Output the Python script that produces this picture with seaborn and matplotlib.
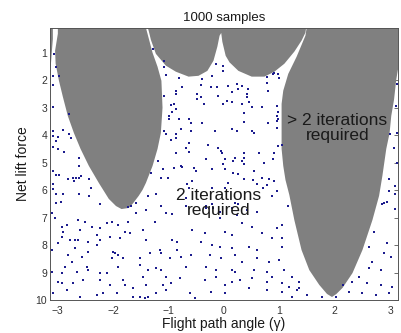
import matplotlib
matplotlib.use('Agg')
import matplotlib.pyplot as plt
import seaborn as sns
import numpy as np
import pandas as pd

# amostras visiveis (gamma, forca)
amostras_esquerda = [
    (-3.07, 1.04), (-3.04, 1.51), (-2.98, 1.84), (-3.09, 1.84), (-3.09, 2.17), (-3.09, 2.97), (-2.80, 3.22),
    (-3.09, 3.84), (-3.09, 4.02), (-3.00, 4.06), (-2.91, 3.81), (-3.04, 4.21), (-3.09, 4.43), (-2.80, 3.95),
    (-2.77, 4.10), (-3.00, 4.50), (-2.89, 4.61), (-2.62, 4.83), (-2.62, 5.12), (-3.09, 5.30), (-3.04, 5.45),
    (-2.98, 5.45), (-2.82, 5.59), (-2.73, 5.56), (-2.68, 5.56), (-2.62, 5.56), (-2.71, 5.66), (-2.59, 5.48),
    (-2.44, 5.59), (-2.41, 5.92), (-3.09, 5.77), (-3.09, 5.96), (-3.04, 6.14), (-2.91, 6.14), (-2.62, 6.14),
    (-2.44, 6.21), (-3.04, 6.47), (-2.95, 6.43), (-2.23, 6.50), (-1.74, 6.61), (-1.68, 6.58), (-1.59, 6.47),
    (-3.11, 6.83), (-3.05, 7.01), (-1.04, 6.83), (-0.93, 6.87), (-1.58, 6.83), (-1.40, 6.72), (-2.93, 7.34),
    (-2.84, 7.27), (-2.91, 7.52), (-2.64, 7.09), (-2.51, 7.16), (-2.39, 7.34), (-2.60, 7.45), (-2.24, 7.38),
    (-2.12, 7.20), (-2.03, 7.16), (-1.92, 7.27), (-1.74, 7.16), (-1.47, 7.45), (-1.25, 7.16), (-2.93, 7.71),
    (-2.78, 7.82), (-2.69, 7.82), (-2.64, 7.82), (-2.46, 7.89), (-2.30, 7.63), (-2.24, 7.82), (-2.06, 7.71),
    (-1.88, 7.74), (-1.79, 7.52), (-1.70, 7.56), (-1.40, 7.82), (-0.93, 7.82), (-0.84, 7.89), (-3.11, 8.18),
    (-3.00, 7.92), (-2.69, 8.11), (-2.82, 8.36), (-2.75, 8.62), (-2.57, 8.43), (-2.46, 8.25), (-2.30, 8.00),
    (-2.01, 8.25), (-1.97, 8.29), (-1.92, 8.36), (-2.03, 8.47), (-1.83, 8.47), (-1.52, 8.47), (-1.34, 8.29),
    (-1.16, 8.18), (-1.13, 8.29), (-0.98, 8.47), (-0.84, 8.18), (-0.77, 8.43), (-0.59, 8.36), (-2.87, 8.80),
    (-2.48, 8.80), (-2.46, 8.91), (-2.66, 8.98), (-2.93, 9.02), (-3.11, 8.98), (-2.24, 9.02), (-2.12, 9.02),
    (-1.92, 8.80), (-1.52, 8.73), (-1.38, 8.91), (-1.22, 8.84), (-1.13, 8.91), (-1.47, 9.16), (-1.04, 9.16),
    (-0.80, 9.20), (-3.00, 9.35), (-2.93, 9.38), (-2.73, 9.38), (-2.55, 9.27), (-2.24, 9.27), (-2.06, 9.45),
    (-1.83, 9.27), (-1.79, 9.45), (-1.65, 9.56), (-1.40, 9.45), (-1.11, 9.45), (-0.95, 9.38), (-3.09, 9.75),
    (-2.84, 9.64), (-2.60, 9.89), (-2.30, 9.82), (-2.19, 9.75), (-1.94, 9.75), (-1.65, 9.89), (-1.52, 9.89),
    (-1.43, 9.93), (-1.38, 9.89), (-1.22, 9.75), (-1.04, 9.64), (-0.62, 9.75), (-0.53, 9.93), (-0.57, 7.45),
    (-0.68, 8.80),
]

amostras_centro = [
    (-1.29, 0.85), (-1.09, 1.29), (-1.09, 1.51), (-1.05, 1.80), (-0.82, 1.91), (-0.75, 2.24), (-0.87, 2.38),
    (-0.87, 2.49), (-0.48, 2.49), (-0.48, 2.68), (-0.42, 2.60), (-0.42, 2.17), (-0.39, 1.95), (-0.21, 1.84),
    (-0.15, 1.40), (-0.01, 1.47), (-0.01, 1.66), (-0.24, 2.24), (-0.12, 2.24), (-0.10, 2.57), (-1.09, 2.57),
    (-0.96, 2.90), (-0.91, 2.86), (-0.87, 3.04), (-0.93, 3.15), (-1.00, 3.30), (-0.37, 2.86), (-0.01, 2.86),
    (-1.00, 3.40), (-0.82, 3.40), (-0.64, 3.40), (-0.60, 3.55), (-0.39, 3.55), (-0.87, 3.95), (-0.87, 4.10),
    (-0.95, 4.17), (-1.05, 3.95), (-1.09, 3.84), (-0.78, 3.77), (-0.60, 3.84), (-0.17, 3.84), (-0.64, 4.28),
    (-0.28, 4.35), (-0.10, 4.46), (-0.06, 4.57), (-0.03, 4.64), (-0.87, 4.64), (-0.69, 4.46), (-0.64, 4.61),
    (-0.33, 4.86), (-0.78, 5.12), (-0.75, 5.15), (-0.91, 5.19), (-0.55, 5.19), (-0.51, 5.30), (-0.21, 5.23),
    (-0.01, 5.05), (-1.20, 4.94), (-1.11, 5.23), (-1.32, 5.37), (-1.14, 5.56), (-1.02, 5.56), (-0.57, 5.66),
    (-0.66, 5.77), (-0.64, 5.92), (-0.21, 5.92), (-1.38, 6.21), (-1.23, 6.14), (-0.69, 6.28), (-1.14, 6.58),
    (-0.69, 6.58), (-0.33, 6.58), (-0.21, 6.50), (-0.19, 6.65),
    (0.08, 2.20), (0.23, 2.13), (0.32, 2.20), (0.26, 2.31), (0.14, 2.42), (0.44, 2.31), (0.41, 2.49),
    (0.41, 2.60), (0.46, 2.79), (0.05, 2.75), (0.14, 2.79), (0.32, 2.86), (0.50, 2.97), (0.68, 2.97),
    (0.37, 3.19), (0.77, 1.87), (0.89, 1.77), (0.91, 1.73), (0.98, 1.77), (1.00, 1.91), (0.77, 2.09),
    (0.80, 2.38), (0.95, 2.93), (0.98, 3.15), (0.95, 3.30),
    (0.37, 3.51), (0.80, 3.55), (0.95, 3.48), (0.98, 3.40), (0.14, 3.77), (0.23, 3.84), (0.50, 3.84),
    (0.55, 3.92), (0.95, 3.73), (0.37, 4.64), (0.64, 4.64), (0.91, 4.64), (0.98, 4.39), (1.04, 4.35),
    (0.01, 4.86), (0.19, 4.83), (0.17, 4.94), (0.37, 4.83), (0.37, 5.05), (0.32, 4.94), (0.73, 5.01),
    (0.89, 4.86), (0.01, 5.23), (0.17, 5.37), (0.26, 5.41), (0.55, 5.30), (0.68, 5.56), (0.37, 5.59),
    (0.53, 5.63), (0.82, 5.59), (0.91, 5.66), (0.59, 5.77), (0.71, 5.92), (0.77, 5.81), (0.08, 5.74),
    (0.01, 5.92), (0.95, 6.03), (0.86, 6.21), (0.19, 6.47), (0.26, 6.50), (1.16, 6.58),
    (-0.32, 6.65), (-0.08, 6.79), (0.15, 6.65), (0.41, 6.72), (0.59, 6.79), (-0.08, 7.01), (0.24, 6.90),
    (0.33, 7.20), (0.51, 7.34), (0.95, 7.38), (1.05, 7.27), (-0.35, 7.56), (0.01, 7.52), (0.15, 7.63),
    (0.69, 7.56), (0.86, 7.74), (1.05, 7.74), (-0.41, 7.89), (-0.21, 8.00), (-0.08, 8.07), (0.14, 8.11),
    (0.46, 8.07), (0.60, 8.18), (1.04, 8.07), (-0.26, 8.36), (-0.05, 8.47), (0.19, 8.36), (0.33, 8.62),
    (0.60, 8.47), (0.82, 8.62), (1.00, 8.54), (-0.32, 8.80), (-0.14, 8.91), (0.15, 8.91), (0.19, 8.98),
    (0.55, 8.91), (0.77, 8.98), (1.09, 8.91), (-0.35, 9.27), (-0.14, 9.16), (0.01, 9.45), (0.15, 9.35),
    (0.28, 9.27), (0.51, 9.20), (0.77, 9.35), (0.87, 9.16), (1.04, 9.38), (1.22, 9.16), (-0.23, 9.71),
    (0.01, 9.75), (0.46, 9.56), (0.77, 9.64), (1.05, 9.71), (1.31, 9.64), (1.23, 9.89), (1.50, 9.82),
    (1.36, 9.56), (1.18, 9.53), (1.36, 9.35), (1.77, 9.89), (2.03, 9.89),
]

amostras_direita = [
    (3.13, 2.13), (3.11, 2.93), (3.00, 3.95), (3.13, 3.92), (3.07, 4.46), (3.13, 5.01), (2.98, 5.59),
    (3.09, 5.85), (2.98, 6.03), (3.09, 6.14), (2.89, 6.47), (2.95, 6.43), (2.86, 6.50), (3.09, 6.69),
    (2.71, 7.52), (2.62, 8.07), (2.89, 8.29), (2.95, 7.92), (3.02, 8.43), (2.68, 8.62), (2.62, 8.84),
    (2.84, 8.91), (2.44, 9.16), (2.32, 9.35), (2.59, 9.38), (2.84, 9.45), (3.04, 9.53), (2.26, 9.71),
    (2.50, 9.75), (2.75, 9.82), (2.98, 9.75), (2.14, 9.45),
]

# contornos das regioes cinzas (> 2 iteracoes)
lobo_esq_x = [-3.00, -3.00, -3.05, -3.04, -2.98, -2.91, -2.82, -2.71, -2.59, -2.44, -2.26, -2.08, -1.95,
              -1.85, -1.72, -1.65, -1.54, -1.47, -1.41, -1.29, -1.20, -1.14, -1.11, -1.13, -1.20, -1.29,
              -1.41, -1.42]
lobo_esq_y = [0.0, 0.31, 0.93, 1.40, 2.02, 2.60, 3.30, 3.92, 4.50, 5.12, 5.74, 6.32, 6.58,
              6.69, 6.65, 6.50, 6.21, 5.99, 5.74, 5.12, 4.50, 3.92, 3.00, 2.02, 1.51, 1.00,
              0.09, 0.0]

lobo_topo_x = [-1.39, -1.36, -1.32, -1.23, -1.05, -0.87, -0.64, -0.46, -0.30, -0.19, -0.12, -0.08,
               -0.05, -0.03, 0.03, 0.10, 0.26, 0.50, 0.73, 0.91, 1.09, 1.27, 1.40, 1.47, 1.49]
lobo_topo_y = [0.0, 0.20, 0.53, 1.04, 1.47, 1.69, 1.87, 1.84, 1.66, 1.29, 0.78, 0.38,
               0.28, 0.60, 1.11, 1.35, 1.66, 1.87, 1.87, 1.69, 1.40, 0.96, 0.56, 0.27, 0.0]

lobo_dir_x = [1.50, 1.47, 1.31, 1.16, 1.07, 1.04, 1.04, 1.07, 1.11, 1.18, 1.27, 1.40, 1.54, 1.72, 1.86,
              1.95, 2.03, 2.14, 2.32, 2.50, 2.68, 2.80, 2.86, 2.93, 2.99, 3.02, 3.07, 3.11, 3.14,
              3.20, 3.20]
lobo_dir_y = [0.0, 0.38, 1.15, 1.77, 2.38, 2.86, 4.50, 5.12, 5.63, 6.18, 7.09, 8.18, 8.91, 9.45, 9.78,
              9.89, 9.78, 9.56, 9.02, 8.18, 7.09, 6.21, 5.48, 4.50, 3.92, 3.30, 2.71, 1.98, 1.62,
              1.62, 0.0]

canto_x = [-3.20, -3.09, -3.09, -3.11, -3.13, -3.20]
canto_y = [0.0, 0.0, 0.5, 1.0, 1.55, 1.55]

pontos = amostras_esquerda + amostras_centro + amostras_direita
df = pd.DataFrame(pontos, columns=['gamma', 'forca'])

sns.set_theme(style='white')
plt.rcParams['font.family'] = ['Liberation Sans', 'DejaVu Sans']

fig, ax = plt.subplots(figsize=(4.01, 3.33), dpi=100)
fig.subplots_adjust(left=0.1247, right=0.9925, bottom=0.0991, top=0.9159)

cinza = '#808080'
for xs, ys in [(lobo_esq_x, lobo_esq_y), (lobo_topo_x, lobo_topo_y),
               (lobo_dir_x, lobo_dir_y), (canto_x, canto_y)]:
    ax.fill(xs, ys, color=cinza, lw=0, zorder=1)

sns.scatterplot(data=df, x='gamma', y='forca', marker='s', s=4, color='#1c1c8e',
                linewidth=0, ax=ax, zorder=2)

ax.text(-0.10, 6.47, '2 iterations\nrequired', ha='center', va='center',
        fontsize=12.5, color='#1a1a1a', linespacing=1.0, zorder=3)
ax.text(2.05, 3.73, '> 2 iterations\nrequired', ha='center', va='center',
        fontsize=12.5, color='#1a1a1a', linespacing=1.0, zorder=3)

ax.set_xlim(-np.pi, np.pi)
ax.set_ylim(10, 0.1)
ax.set_xticks([-3, -2, -1, 0, 1, 2, 3])
ax.set_yticks([1, 2, 3, 4, 5, 6, 7, 8, 9, 10])
ax.tick_params(direction='in', length=3, width=0.6, top=True, right=True,
               labelsize=7.5, labelcolor='#333333', color='#555555')
ax.tick_params(axis='x', pad=4)
ax.tick_params(axis='y', pad=2)
for s in ax.spines.values():
    s.set_color('#555555')
    s.set_linewidth(0.7)

ax.set_title('1000 samples', fontsize=9.5, color='#1a1a1a', pad=5)
ax.set_xlabel('Flight path angle (\u03b3)', fontsize=10, color='#1a1a1a', labelpad=1)
ax.set_ylabel('Net lift force', fontsize=10, color='#1a1a1a', labelpad=4)

plt.savefig('out.png', dpi=100)
